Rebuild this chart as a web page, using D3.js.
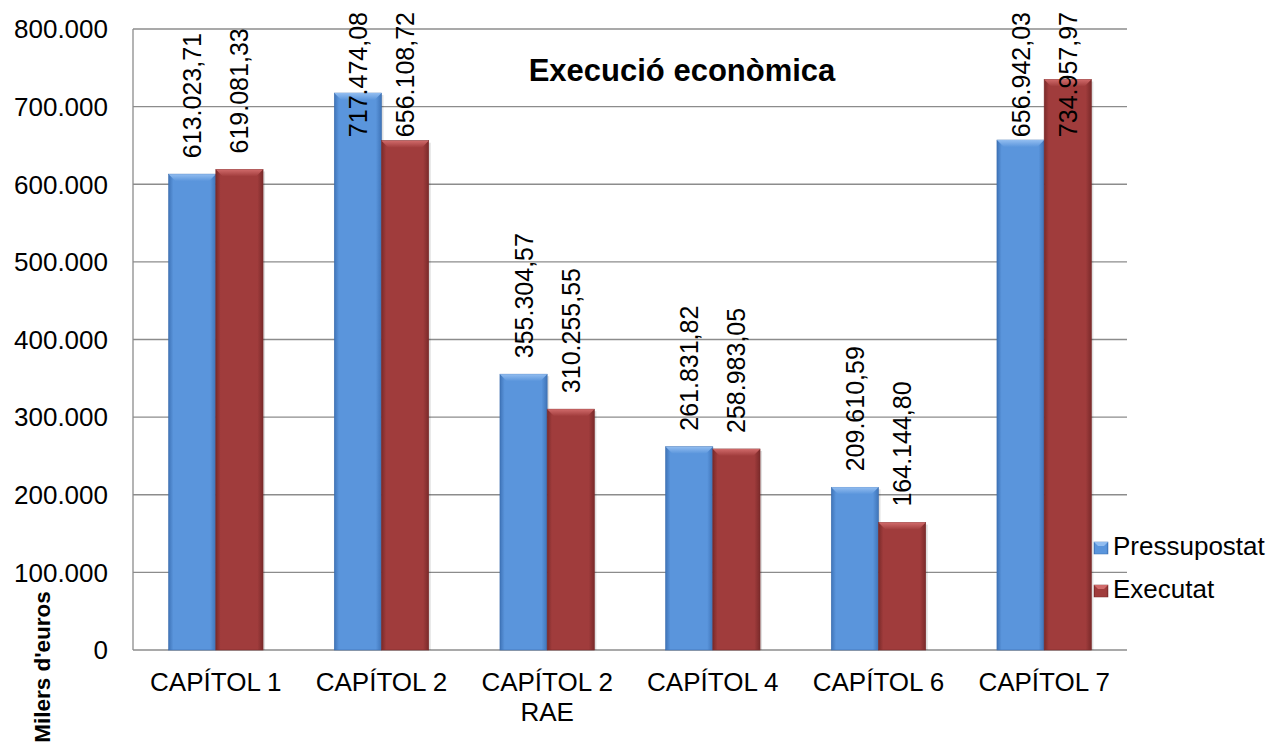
<!DOCTYPE html>
<html><head><meta charset="utf-8">
<script src="https://cdn.jsdelivr.net/npm/d3@7"></script>
<style>body{margin:0;background:#fff}svg{display:block;font-family:"Liberation Sans",Arial,sans-serif}</style>
</head><body><svg id="c" width="1272" height="749"></svg>
<script>
const categories = ["CAPÍTOL 1","CAPÍTOL 2","CAPÍTOL 2 RAE","CAPÍTOL 4","CAPÍTOL 6","CAPÍTOL 7"];
const seriesNames = ["Pressupostat","Executat"];
const pressupostat = [613023.71,717474.08,355304.57,261831.82,209610.59,656942.03];
const executat = [619081.33,656108.72,310255.55,258983.05,164144.80,734957.97];
const yTicks = [0,100000,200000,300000,400000,500000,600000,700000,800000];
const title = "Execució econòmica";
const yTitle = "Milers d'euros";

const loc = d3.formatLocale({decimal:",",thousands:".",grouping:[3],currency:["","€"]});
const fmtVal = loc.format(",.2f");
const fmtTick = loc.format(",.0f");

const svg = d3.select("#c");
const L=133,R=1127,T=29,B=650;
const y = d3.scaleLinear().domain([0,800000]).range([B,T]);
const x0 = d3.scaleBand().domain(categories).range([L,R]).paddingInner(0.43).paddingOuter(0.215);
const x1 = d3.scaleBand().domain(seriesNames).range([0,x0.bandwidth()]);

const colors = {
  Pressupostat:{main:"#5A95DC",edge:"#3F74B8",light:"#92BDF0",dark:"#3B6DAE"},
  Executat:{main:"#A03C3C",edge:"#7A2A2A",light:"#D06A6A",dark:"#7A2A2A"}
};
const defs = svg.append("defs");
seriesNames.forEach(s=>{
  const c=colors[s];
  const g=defs.append("linearGradient").attr("id","g"+s).attr("x1",0).attr("x2",1).attr("y1",0).attr("y2",0);
  g.append("stop").attr("offset","0").attr("stop-color",c.edge);
  g.append("stop").attr("offset","0.1").attr("stop-color",c.main);
  g.append("stop").attr("offset","0.88").attr("stop-color",c.main);
  g.append("stop").attr("offset","1").attr("stop-color",c.edge);
  const t=defs.append("linearGradient").attr("id","t"+s).attr("x1",0).attr("x2",0).attr("y1",0).attr("y2",1);
  t.append("stop").attr("offset","0").attr("stop-color",c.light);
  t.append("stop").attr("offset","1").attr("stop-color",c.main);
});

// gridlines
svg.append("g").selectAll("line").data(yTicks).join("line")
  .attr("x1",L).attr("x2",R).attr("y1",d=>y(d)).attr("y2",d=>y(d))
  .attr("stroke","#8c8c8c").attr("stroke-width",1.3);
svg.append("line").attr("x1",L).attr("x2",L).attr("y1",T).attr("y2",B).attr("stroke","#8c8c8c").attr("stroke-width",1.3);

// y tick labels
svg.append("g").selectAll("text").data(yTicks).join("text")
  .attr("x",108).attr("y",d=>y(d)).attr("dy","0.36em").attr("text-anchor","end")
  .attr("font-size",26).attr("fill","#000").text(d=>fmtTick(d));

// bars
const data = categories.map((c,i)=>({cat:c,vals:[{s:"Pressupostat",v:pressupostat[i]},{s:"Executat",v:executat[i]}]}));
const groups = svg.append("g").selectAll("g").data(data).join("g").attr("transform",d=>`translate(${x0(d.cat)},0)`);
const bars = groups.selectAll("g.bar").data(d=>d.vals).join("g").attr("class","bar");
bars.append("rect").attr("x",d=>x1(d.s)+2).attr("y",d=>y(d.v)+2).attr("width",x1.bandwidth()).attr("height",d=>B-y(d.v)-2)
  .attr("fill","rgba(0,0,0,0.12)");
bars.append("rect").attr("x",d=>x1(d.s)).attr("y",d=>y(d.v)).attr("width",x1.bandwidth()).attr("height",d=>B-y(d.v))
  .attr("fill",d=>`url(#g${d.s})`).attr("stroke",d=>colors[d.s].dark).attr("stroke-width",0.6);
bars.append("path").attr("d",d=>{
  const xa=x1(d.s), w=x1.bandwidth(), yt=y(d.v), h=7;
  return `M${xa},${yt}L${xa+w},${yt}L${xa+w-h},${yt+h}L${xa+h},${yt+h}Z`;
}).attr("fill",d=>`url(#t${d.s})`);

// value labels
const lbl = bars.append("text").attr("font-size",25).attr("fill","#000").attr("text-anchor","start")
  .text(d=>fmtVal(d.v));
lbl.each(function(d){
  const len=this.getComputedTextLength();
  const cx = x1(d.s)+x1.bandwidth()/2;
  const base = Math.max(y(d.v)-16, 12+len);
  d3.select(this).attr("transform",`translate(${cx},${base}) rotate(-90)`).attr("dy","0.36em");
});

// x labels
function wrapLines(text,maxW){
  const words=text.split(" ");const lines=[];let cur="";
  const tmp=svg.append("text").attr("font-size",26);
  words.forEach(w=>{
    const t=cur?cur+" "+w:w; tmp.text(t);
    if(tmp.node().getComputedTextLength()>maxW && cur){lines.push(cur);cur=w;} else cur=t;
  });
  if(cur)lines.push(cur); tmp.remove(); return lines;
}
categories.forEach(c=>{
  const lines=wrapLines(c,x0.step()-8);
  const t=svg.append("text").attr("font-size",26).attr("text-anchor","middle").attr("fill","#000");
  lines.forEach((ln,i)=>t.append("tspan").attr("x",x0(c)+x0.bandwidth()/2).attr("y",691+i*30).text(ln));
});

// title
svg.append("text").attr("x",682).attr("y",81).attr("text-anchor","middle").attr("font-size",31)
  .attr("font-weight","bold").attr("fill","#000").text(title);

// y axis title
svg.append("text").attr("transform","translate(50,667) rotate(-90)").attr("text-anchor","middle")
  .attr("font-size",22.5).attr("font-weight","bold").attr("fill","#000").text(yTitle);

// legend
const leg = svg.append("g").selectAll("g").data(seriesNames).join("g")
  .attr("transform",(d,i)=>`translate(1094,${542+i*43})`);
leg.append("rect").attr("width",14).attr("height",12).attr("fill",d=>`url(#g${d})`).attr("stroke",d=>colors[d].dark).attr("stroke-width",0.5);
leg.append("path").attr("d","M0,0L14,0L10,4L4,4Z").attr("fill",d=>colors[d].light);
leg.append("text").attr("x",19).attr("y",13).attr("font-size",26).attr("fill","#000").text(d=>d);
</script></body></html>
